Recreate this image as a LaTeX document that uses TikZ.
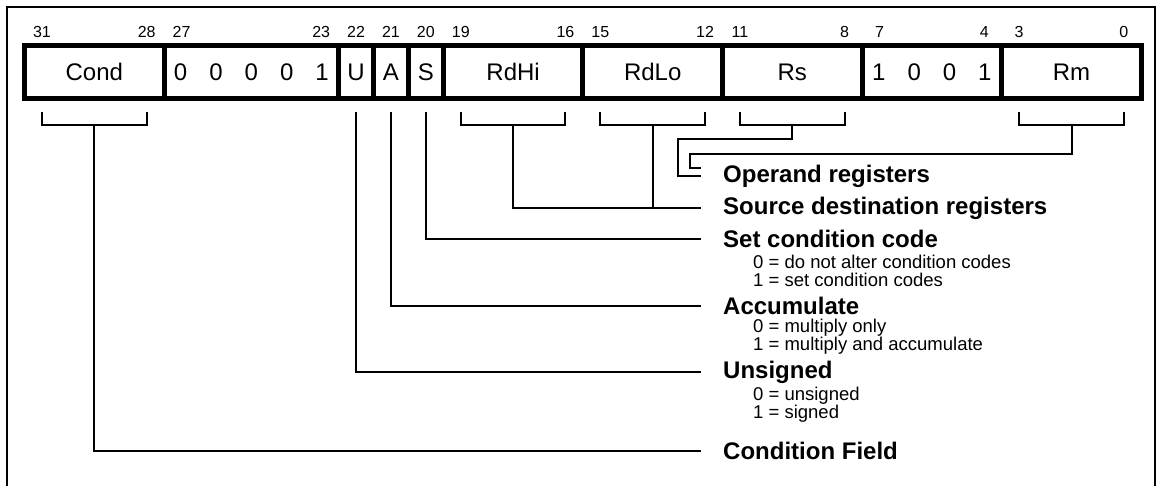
\documentclass[tikz,border=0pt]{standalone}
\usepackage{fontspec}
\setmainfont{Liberation Sans}
\usetikzlibrary{positioning}

\newcommand{\bitgap}{\hspace{22pt}}

\begin{document}
\begin{tikzpicture}[
    x=1pt, y=1pt,
    field/.style={rectangle, draw, line width=5pt, minimum width=#1*34.9pt, minimum height=53pt,
        inner sep=0pt, outer sep=0pt, font=\fontsize{24}{24}\selectfont},
    bitnum/.style={inner sep=0pt, font=\fontsize{16}{16}\selectfont},
    link/.style={line width=2pt},
    head/.style={anchor=west, inner sep=0pt, font=\bfseries\fontsize{24}{24}\selectfont},
    note/.style={anchor=west, inner sep=0pt, align=left, font=\fontsize{18.5}{18}\selectfont}
]
\path[use as bounding box, clip] (0,0) rectangle (1160,-485);
\draw[line width=2pt] (7,-495) -- (7,-7) -- (1155,-7) -- (1155,-495);

% instruction word
\node[field=4, anchor=west] (cond) at (24.5,-72) {Cond};
\node[field=5, right=0pt of cond] (opc) {0\bitgap0\bitgap0\bitgap0\bitgap1};
\node[field=1, right=0pt of opc] (ubit) {U};
\node[field=1, right=0pt of ubit] (abit) {A};
\node[field=1, right=0pt of abit] (sbit) {S};
\node[field=4, right=0pt of sbit] (rdhi) {RdHi};
\node[field=4, right=0pt of rdhi] (rdlo) {RdLo};
\node[field=4, right=0pt of rdlo] (rs) {Rs};
\node[field=4, right=0pt of rs] (mul) {1\bitgap0\bitgap0\bitgap1};
\node[field=4, right=0pt of mul] (rm) {Rm};

% bit numbers
\foreach \b in {31,28,27,23,22,21,20,19,16,15,12,11,8,7,4,3,0}
    \node[bitnum] (b\b) at ({24.5+(31-\b)*34.9+17.45},-32) {\b};

% brackets
\foreach \f in {cond,rdhi,rdlo,rs,rm} {
    \draw[link] ([xshift=17.45pt,yshift=-13.5pt]\f.south west) -- ++(0,-13)
        -| ([xshift=-17.45pt,yshift=-13.5pt]\f.south east);
    \coordinate (\f br) at ([yshift=-26.5pt]\f.south);
}

% descriptions
\node[head] (opreg) at (723,-176) {Operand registers};
\node[head] (srcdst) at (723,-208) {Source destination registers};
\node[head] (setcc) at (723,-238.5) {Set condition code};
\node[note] (setnote) at (753,-271) {0 = do not alter condition codes\\1 = set condition codes};
\node[head] (accum) at (723,-306) {Accumulate};
\node[note] (accnote) at (753,-337) {0 = multiply only\\1 = multiply and accumulate};
\node[head] (unsg) at (723,-372) {Unsigned};
\node[note] (unsnote) at (753,-405) {0 = unsigned\\1 = signed};
\node[head] (cfield) at (723,-451) {Condition Field};

% connectors
\draw[link] (rsbr) -- ++(0,-14) -| ([xshift=-45pt]opreg.west) -- ([xshift=-22pt]opreg.west);
\draw[link] (rmbr) -- ++(0,-29) -| ([xshift=-33pt,yshift=8pt]opreg.west)
    -- ([xshift=-22pt,yshift=8pt]opreg.west);
\draw[link] (rdhibr) |- ([xshift=-22pt]srcdst.west);
\draw[link] (rdlobr) -- (rdlobr |- srcdst.west);
\draw[link] ([yshift=-13.5pt]sbit.south) |- ([xshift=-22pt]setcc.west);
\draw[link] ([yshift=-13.5pt]abit.south) |- ([xshift=-22pt]accum.west);
\draw[link] ([yshift=-13.5pt]ubit.south) |- ([xshift=-22pt]unsg.west);
\draw[link] (condbr) |- ([xshift=-22pt]cfield.west);
\end{tikzpicture}
\end{document}
